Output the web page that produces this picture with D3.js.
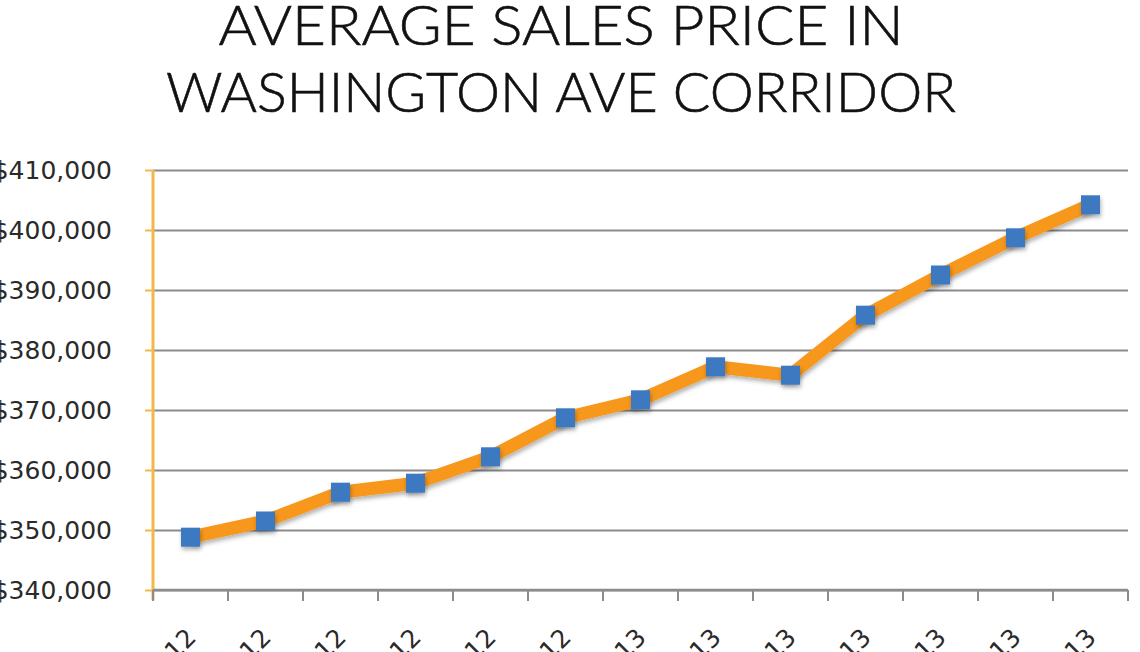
<!DOCTYPE html>
<html>
<head>
<meta charset="utf-8">
<script src="https://cdn.jsdelivr.net/npm/d3@7"></script>
<style>
  html, body { margin: 0; padding: 0; background: #fff; overflow: hidden; }
  svg { display: block; }
</style>
</head>
<body>
<svg id="chart" width="1140" height="652"></svg>
<script>
const titleLines = ["AVERAGE SALES PRICE IN", "WASHINGTON AVE CORRIDOR"];
const categories = ["Jul-12", "Aug-12", "Sep-12", "Oct-12", "Nov-12", "Dec-12",
                    "Jan-13", "Feb-13", "Mar-13", "Apr-13", "May-13", "Jun-13", "Jul-13"];
const prices = [348800, 351500, 356300, 357800, 362200, 368700,
                371700, 377200, 375800, 385800, 392500, 398700, 404200];
const yTicks = [340000, 350000, 360000, 370000, 380000, 390000, 400000, 410000];

(function () {
const svg = d3.select("#chart");
const pLeft = 153, pRight = 1128, pTop = 170, pBottom = 590;

const x = d3.scaleBand().domain(categories).range([pLeft, pRight]).padding(0);
const y = d3.scaleLinear().domain([340000, 410000]).range([pBottom, pTop]);

const defs = svg.append("defs");
const f = defs.append("filter").attr("id", "shadow").attr("x", "-50%").attr("y", "-50%").attr("width", "200%").attr("height", "200%");
f.append("feDropShadow").attr("dx", 1).attr("dy", 3).attr("stdDeviation", 2).attr("flood-color", "#000").attr("flood-opacity", 0.3);

// Title
svg.append("g").selectAll("text").data(titleLines).join("text")
  .attr("x", 561)
  .attr("y", (d, i) => 45 + i * 67)
  .attr("text-anchor", "middle")
  .attr("font-family", "Lato, 'Open Sans', sans-serif")
  .attr("font-weight", 300)
  .attr("font-size", 55)
  .attr("fill", "#111")
  .attr("stroke", "#111")
  .attr("stroke-width", 0.6)
  .attr("textLength", (d, i) => i === 0 ? 685 : 790)
  .attr("lengthAdjust", "spacingAndGlyphs")
  .text(d => d);

// Gridlines
svg.append("g")
  .attr("transform", `translate(${pLeft},0)`)
  .call(d3.axisLeft(y).tickValues(yTicks).tickSize(-(pRight - pLeft)).tickFormat(""))
  .call(g => g.select(".domain").remove())
  .call(g => g.selectAll("line").attr("stroke", "#8c8c8c").attr("stroke-width", 2));

// Y axis (orange) with labels
const yAxis = svg.append("g")
  .attr("transform", `translate(${pLeft},0)`)
  .call(d3.axisLeft(y).tickValues(yTicks).tickSize(8).tickPadding(33).tickFormat(d3.format("$,")));
yAxis.select(".domain").remove();
yAxis.selectAll("line").attr("stroke", "#f2b84b").attr("stroke-width", 2);
yAxis.selectAll("text")
  .attr("font-family", "'DejaVu Sans', Verdana, sans-serif")
  .attr("font-size", 25)
  .attr("fill", "#2a2a2a");
yAxis.append("line").attr("x1", 0).attr("x2", 0).attr("y1", pTop).attr("y2", pBottom + 10)
  .attr("stroke", "#f2b84b").attr("stroke-width", 3);

// X axis
const xg = svg.append("g");
xg.append("line").attr("x1", pLeft).attr("x2", pRight).attr("y1", pBottom).attr("y2", pBottom)
  .attr("stroke", "#8c8c8c").attr("stroke-width", 2.5);
const edges = categories.map(c => x(c)).concat([x.range()[1]]);
xg.selectAll("line.tick").data(edges).join("line").attr("class", "tick")
  .attr("x1", d => d).attr("x2", d => d).attr("y1", pBottom).attr("y2", pBottom + 11)
  .attr("stroke", "#8c8c8c").attr("stroke-width", 2);
xg.selectAll("text").data(categories).join("text")
  .attr("transform", d => `translate(${x(d) + x.bandwidth() / 2 + 7},${pBottom + 49}) rotate(-45)`)
  .attr("text-anchor", "end")
  .attr("font-family", "'DejaVu Sans', Verdana, sans-serif")
  .attr("font-size", 25)
  .attr("fill", "#2a2a2a")
  .text(d => d);

// Line
const pts = categories.map((c, i) => [x(c) + x.bandwidth() / 2, y(prices[i])]);
svg.append("path")
  .datum(pts)
  .attr("d", d3.line())
  .attr("fill", "none")
  .attr("stroke", "#f7971c")
  .attr("stroke-width", 13)
  .attr("stroke-linejoin", "round")
  .attr("filter", "url(#shadow)");

// Markers
const ms = 19;
svg.append("g").selectAll("rect").data(pts).join("rect")
  .attr("x", d => d[0] - ms / 2)
  .attr("y", d => d[1] - ms / 2)
  .attr("width", ms).attr("height", ms)
  .attr("fill", "#3d79c0")
  .attr("filter", "url(#shadow)");
})();
</script>
</body>
</html>
